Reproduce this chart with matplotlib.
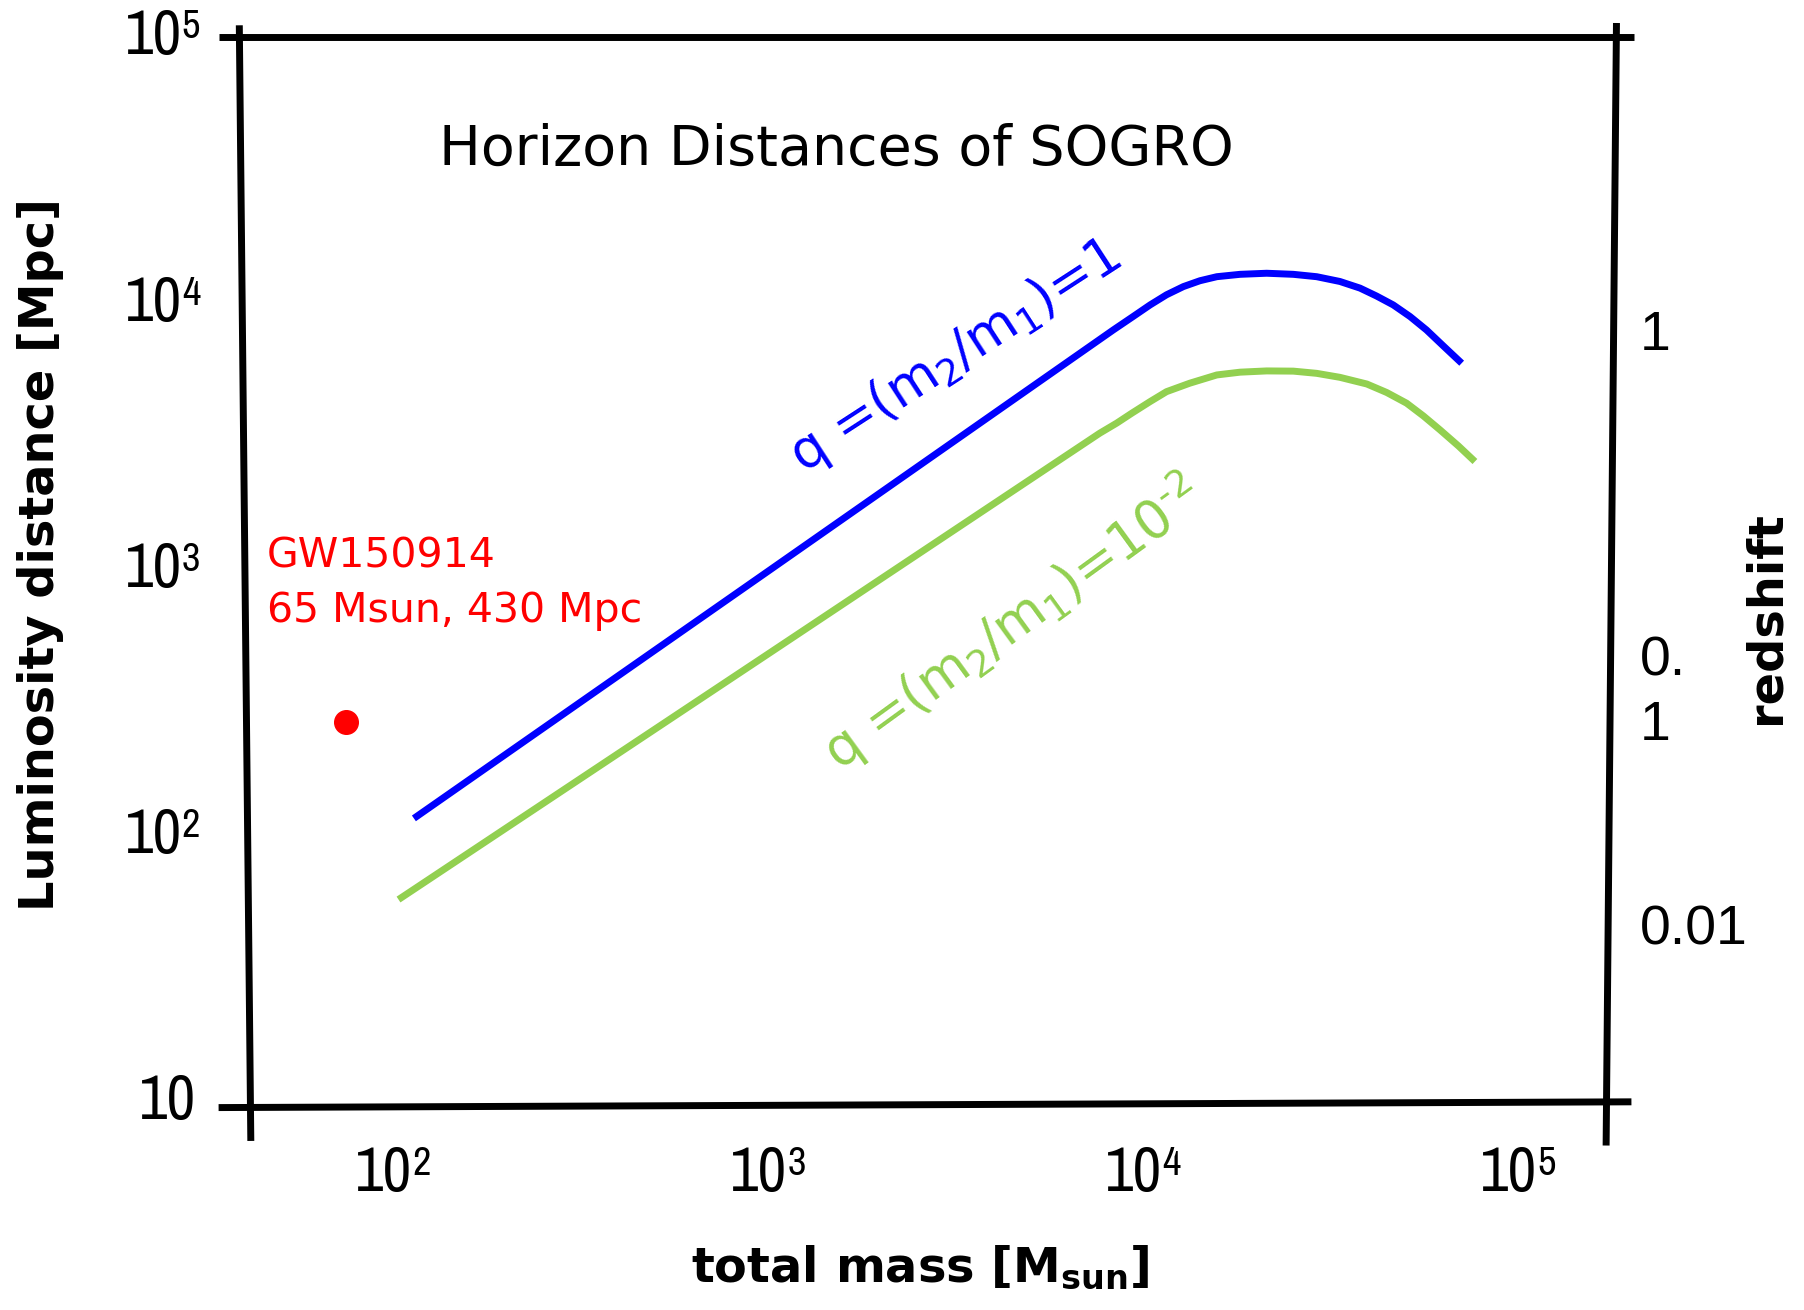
import matplotlib
matplotlib.use('Agg')
import matplotlib.pyplot as plt
from matplotlib.lines import Line2D
from matplotlib.transforms import blended_transform_factory

# horizon distance curves (total mass [Msun], luminosity distance [Mpc])
mass_q1 = [111, 993, 8128, 9180, 10190, 11270, 12500, 13840, 15350, 17700, 20840,
           24550, 28330, 32680, 36960, 40900, 45330, 50250, 55590, 61660, 69000]
dist_q1 = [116, 1000, 7925, 8900, 9840, 10740, 11530, 12130, 12560, 12820, 12940,
           12820, 12560, 12050, 11380, 10630, 9840, 8900, 7925, 6900, 5945]

mass_q001 = [101, 966, 7480, 8300, 9100, 10190, 11270, 13000, 15350, 17700, 20840,
             24550, 28330, 32680, 38550, 43550, 49200, 54550, 60400, 67650, 74850]
dist_q001 = [57.5, 476, 3245, 3540, 3855, 4265, 4647, 5000, 5370, 5500, 5560,
             5550, 5445, 5260, 4965, 4614, 4207, 3767, 3340, 2905, 2540]

gw_mass = [73]
gw_dist = [266]

xtick_exps = [2, 3, 4, 5]
ytick_exps = [1, 2, 3, 4, 5]
redshift_labels = ['1', '0.\n1', '0.01']
redshift_dist = [7530, 341, 44]

plt.rcParams['font.family'] = ['DejaVu Sans']
plt.rcParams['mathtext.fontset'] = 'dejavusans'
TICK_FONT = ['Archivo Narrow', 'Liberation Sans', 'DejaVu Sans']
REF_W, REF_H = 1568, 1139


def fxy(px, py):
    # position in the 1568x1139 reference -> figure fraction
    return px / REF_W, 1 - py / REF_H


fig = plt.figure(figsize=(18.04, 13.10), dpi=100)
x0, y1 = fxy(213, 32)
x1, y0 = fxy(1401, 960)
ax = fig.add_axes([x0, y0, x1 - x0, y1 - y0])
ax.set_xscale('log')
ax.set_yscale('log')
ax.set_xlim(39.37, 173500)
ax.set_ylim(9.8, 1e5)
ax.axis('off')

# hand drawn frame
frame = [((208, 22), (218, 992)),
         ((190, 32), (1420, 32)),
         ((1405, 20), (1396, 996)),
         ((190, 963), (1418, 958))]
for p, q in frame:
    a, b = fxy(*p), fxy(*q)
    fig.add_artist(Line2D([a[0], b[0]], [a[1], b[1]], color='black', lw=5,
                          solid_capstyle='butt'))

ax.plot(mass_q1, dist_q1, color='#0000FF', lw=5, solid_capstyle='butt')
ax.plot(mass_q001, dist_q001, color='#92D050', lw=5, solid_capstyle='butt')
ax.plot(gw_mass, gw_dist, 'o', color='#FF0000', ms=17)

# y tick labels
ytr = blended_transform_factory(fig.transFigure, ax.transData)
for e in ytick_exps:
    if e == 1:
        fig.text(fxy(170, 0)[0], 10, '10', transform=ytr, ha='right', va='center',
                 fontsize=45, family=TICK_FONT)
        continue
    t = fig.text(fxy(158, 0)[0], 10.0 ** e, '10', transform=ytr, ha='right',
                 va='center', fontsize=45, family=TICK_FONT)
    ax.annotate(str(e), xy=(1, 1), xycoords=t, ha='left', va='top',
                fontsize=29, family=TICK_FONT, annotation_clip=False)

# x tick labels
xtr = blended_transform_factory(ax.transData, fig.transFigure)
for e in xtick_exps:
    t = ax.annotate('10', xy=(10.0 ** e, fxy(0, 1020)[1]), xycoords=xtr,
                    xytext=(11, 0), textcoords='offset points', ha='right',
                    va='center', fontsize=45, family=TICK_FONT, annotation_clip=False)
    ax.annotate(str(e), xy=(1, 1), xycoords=t, ha='left', va='top',
                fontsize=29, family=TICK_FONT, annotation_clip=False)

# redshift labels on the right
for lab, d in zip(redshift_labels, redshift_dist):
    fig.text(fxy(1425, 0)[0], d, lab, transform=ytr, ha='left', va='center',
             fontsize=40, family=['Liberation Sans', 'DejaVu Sans'], linespacing=1.3)

fig.text(*fxy(727, 130), 'Horizon Distances of SOGRO', ha='center', va='center',
         fontsize=40)
fig.text(*fxy(35, 482), 'Luminosity distance [Mpc]', ha='center', va='center',
         rotation=90, fontsize=34.5, fontweight='bold')
fig.text(*fxy(800, 1103), r'total mass [M$_{\mathbf{sun}}$]', ha='center',
         va='center', fontsize=34.5, fontweight='bold')
fig.text(*fxy(1535, 537), 'redshift', ha='center', va='center', rotation=90,
         fontsize=34.5, fontweight='bold')

fig.text(*fxy(232, 493), 'GW150914', ha='left', va='baseline', fontsize=29.5,
         color='#FF0000')
fig.text(*fxy(232, 541), '65 Msun, 430 Mpc', ha='left', va='baseline',
         fontsize=29.5, color='#FF0000')

fig.text(*fxy(830, 310), r'q =(m$_2$/m$_1$)=1', ha='center', va='center',
         rotation=33, rotation_mode='anchor', fontsize=38, color='#0000FF')
fig.text(*fxy(880, 542), r'q =(m$_2$/m$_1$)=10$^{\text{-}2}$', ha='center',
         va='center', rotation=36, rotation_mode='anchor', fontsize=38,
         color='#92D050')

fig.savefig('out.png', dpi=100)
